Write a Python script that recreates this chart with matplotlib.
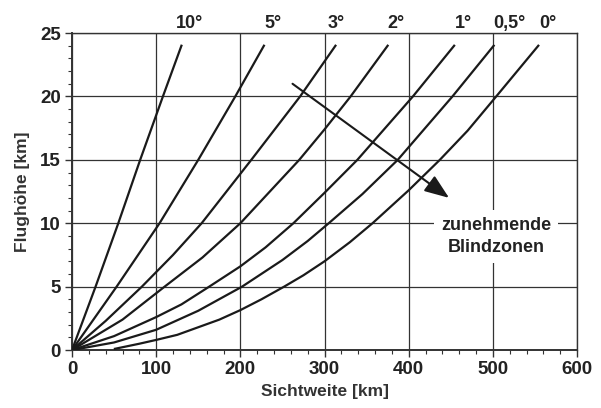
import numpy as np
import matplotlib.pyplot as plt

plt.rcParams['font.family'] = ['Liberation Sans', 'DejaVu Sans']
plt.rcParams['font.weight'] = 'bold'
plt.rcParams['axes.labelweight'] = 'bold'

# Sichtweite [km] / Flughöhe [km] je Elevationswinkel
winkel = ['10°', '5°', '3°', '2°', '1°', '0,5°', '0°']
x_10 = [0, 28, 55, 81, 108, 130]
y_10 = [0, 5, 10, 15, 20, 24]
x_5 = [0, 53, 104, 150, 194, 228]
y_5 = [0, 5, 10, 15, 20, 24]
x_3 = [0, 40, 83, 120, 154, 213, 271, 313]
y_3 = [0, 2.3, 5, 7.5, 10, 15, 20, 24]
x_2 = [0, 60, 110, 155, 200, 235, 270, 300, 331, 375]
y_2 = [0, 2.4, 5, 7.3, 10, 12.5, 15, 17.4, 20, 24]
x_1 = [0, 50, 100, 130, 163, 200, 230, 263, 300, 339, 405, 454]
y_1 = [0, 1.1, 2.6, 3.6, 5, 6.6, 8.1, 10, 12.4, 15, 20, 24]
x_05 = [0, 50, 100, 150, 202, 250, 280, 305, 345, 387, 452, 501]
y_05 = [0, 0.6, 1.6, 3.1, 5, 7.1, 8.6, 10, 12.3, 15, 20, 24]
x_0 = [51, 80, 100, 125, 150, 175, 200, 225, 252, 275, 300, 330, 357, 400, 437, 470, 504, 554]
y_0 = [0.1, 0.5, 0.8, 1.2, 1.8, 2.4, 3.15, 4.0, 5, 5.9, 7.0, 8.5, 10, 12.6, 15, 17.3, 20, 24]

kurven = [(x_10, y_10), (x_5, y_5), (x_3, y_3), (x_2, y_2),
          (x_1, y_1), (x_05, y_05), (x_0, y_0)]
label_x = [124, 229, 304, 375, 455, 501, 555]

fig = plt.figure(figsize=(6.01, 4.08), dpi=100)
ax = fig.add_axes([0.1198, 0.142, 0.8403, 0.777])

for (xs, ys), lab, lx in zip(kurven, winkel, label_x):
    ax.plot(xs, ys, color='#1a1a1a', lw=1.6, solid_joinstyle='round', zorder=3)
    ax.text(lx, 25.4, lab, ha='left', va='baseline', fontsize=13, color='#222222')

ax.set_xlim(0, 600)
ax.set_ylim(0, 25)
ax.set_xticks(np.arange(0, 601, 100))
ax.set_yticks(np.arange(0, 26, 5))
ax.set_xticks(np.arange(0, 601, 20), minor=True)
ax.set_yticks(np.arange(0, 26, 1), minor=True)
ax.grid(True, which='major', color='#333333', lw=0.9)
ax.tick_params(which='major', length=5, width=1, color='#333333',
               labelsize=13.5, labelcolor='#222222', pad=3)
ax.tick_params(which='minor', length=3, width=0.8, color='#333333')
for s in ax.spines.values():
    s.set_color('#333333')
    s.set_linewidth(1.0)
ax.spines['left'].set_linewidth(1.4)
ax.spines['bottom'].set_linewidth(1.4)

ax.set_xlabel('Sichtweite [km]', fontsize=12.5, color='#333333', labelpad=4)
ax.set_ylabel('Flughöhe [km]', fontsize=12.5, color='#333333', labelpad=7)

ax.annotate('', xy=(448, 12), xytext=(262, 21),
            arrowprops=dict(arrowstyle='-|>,head_length=1.0,head_width=0.38',
                            color='#1a1a1a', lw=1.5, mutation_scale=15,
                            shrinkA=0, shrinkB=0), zorder=4)

ax.text(504, 8.95, 'zunehmende\nBlindzonen', ha='center', va='center',
        fontsize=13, color='#222222', linespacing=1.4, zorder=5,
        bbox=dict(facecolor='white', edgecolor='none', pad=5))

fig.savefig('out.png', dpi=100)
